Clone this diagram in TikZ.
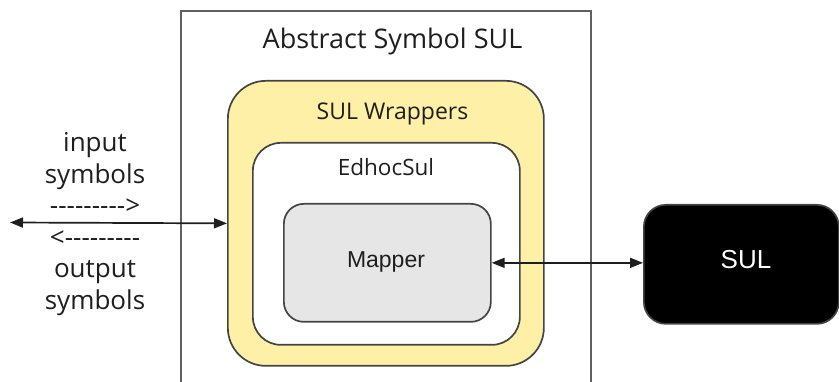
\documentclass[tikz,border=0pt]{standalone}
\usepackage{fontspec}
\setmainfont{Open Sans}
\newfontfamily\arialfont{Liberation Sans}
\usetikzlibrary{arrows.meta}
\definecolor{wrapyellow}{HTML}{FFF0A8}
\definecolor{mappergray}{HTML}{E6E6E6}
\definecolor{framegray}{HTML}{444444}
\definecolor{inkgray}{HTML}{1E1E1E}
\begin{document}
\begin{tikzpicture}[x=1pt,y=-1pt,
  box/.style={draw=framegray, line width=1.7pt, inner sep=0pt, anchor=north west},
  lbl/.style={anchor=base, inner sep=0pt, text=inkgray},
  link/.style={line width=1.7pt, draw=inkgray,
    {Triangle[length=13pt,width=10pt]}-{Triangle[length=13pt,width=10pt]}}
]
\useasboundingbox (0,0) rectangle (839,382);
\clip (0,0) rectangle (839,382);

% containers, outermost first
\node[box, draw=framegray!85, minimum width=410pt, minimum height=420pt] (abstract) at (180,10) {};
\node[box, fill=wrapyellow, rounded corners=38pt,
      minimum width=316pt, minimum height=285pt] (wrap) at (227,80) {};
\node[box, fill=white, rounded corners=28pt,
      minimum width=267pt, minimum height=202pt] (edhoc) at (252,142) {};
\node[box, fill=mappergray, rounded corners=20pt,
      minimum width=207pt, minimum height=118pt] (mapper) at (283,203) {};
\node[box, fill=black, rounded corners=22pt,
      minimum width=195pt, minimum height=119pt] (sul) at (643,204) {};

% titles
\node[lbl, font=\fontsize{27}{31}\selectfont] (abstracttitle) at (392.5,49) {Abstract Symbol SUL};
\node[lbl, font=\fontsize{23}{28}\selectfont] (wraptitle) at (392.5,120) {SUL Wrappers};
\node[lbl, font=\fontsize{22.5}{27}\selectfont] (edhoctitle) at (386,176) {EdhocSul};
\node[lbl, font=\arialfont\fontsize{23}{28}\selectfont] (mappertitle) at (386,268) {Mapper};
\node[lbl, font=\arialfont\fontsize{26}{30}\selectfont, text=white] (sultitle) at (746,269) {SUL};

% side labels
\begin{scope}[every node/.append style={lbl, font=\fontsize{26}{31}\selectfont}]
  \node (in1) at (95,152) {input};
  \node (in2) at (95,183.5) {symbols};
  \node (in3) at (95,215) {-{}-{}-{}-{}-{}-{}-{}-{}->};
  \node (out1) at (95,246.5) {<-{}-{}-{}-{}-{}-{}-{}-{}-};
  \node (out2) at (95,278) {output};
  \node (out3) at (95,309.5) {symbols};
\end{scope}

% connectors
\coordinate (leftend) at (10,222.5);
\draw[link] (leftend) -- (wrap.west);
\draw[link] (mapper.east) -- (sul.west |- mapper.east);
\end{tikzpicture}
\end{document}
